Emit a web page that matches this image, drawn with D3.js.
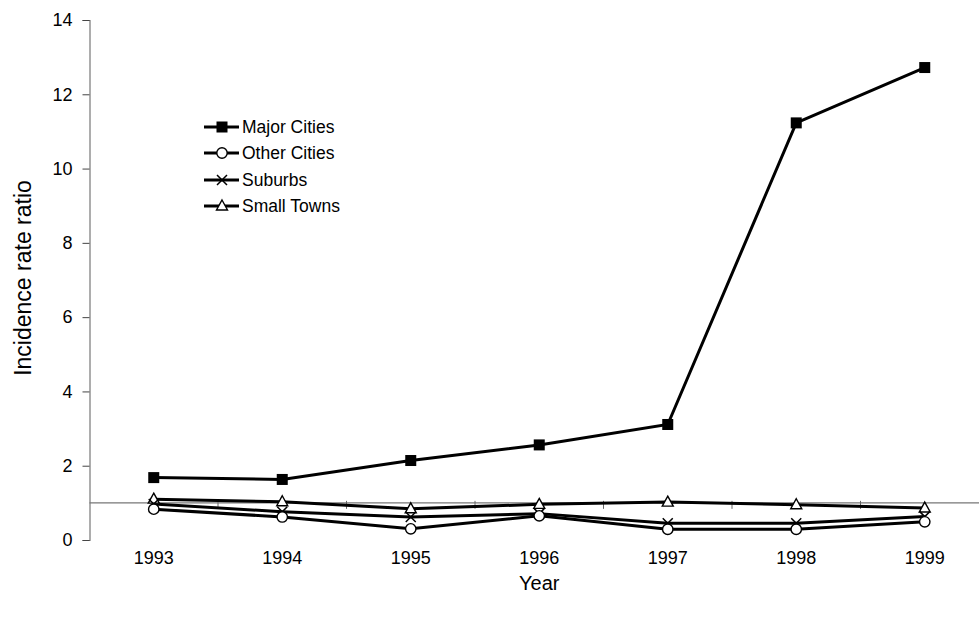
<!DOCTYPE html>
<html>
<head>
<meta charset="utf-8">
<script src="https://cdn.jsdelivr.net/npm/d3@7"></script>
<style>
  body { margin: 0; background: #fff; }
  svg { display: block; }
  .axis-text { font-family: "Liberation Sans Narrow", "Arial Narrow", "Liberation Sans", Arial, sans-serif; font-size: 18px; fill: #000; }
  .title-text { font-family: "Liberation Sans", Arial, sans-serif; font-size: 20px; fill: #000; }
  .legend-text { font-family: "Liberation Sans", Arial, sans-serif; font-size: 17.5px; fill: #000; }
</style>
</head>
<body>
<div id="chart"></div>
<script>
// --- Data ---
const years = ["1993", "1994", "1995", "1996", "1997", "1998", "1999"];
const majorCities = [1.68, 1.63, 2.14, 2.56, 3.11, 11.23, 12.72];
const otherCities = [0.83, 0.62, 0.30, 0.65, 0.29, 0.29, 0.49];
const suburbs = [0.97, 0.76, 0.62, 0.71, 0.45, 0.45, 0.63];
const smallTowns = [1.10, 1.03, 0.84, 0.96, 1.02, 0.95, 0.86];
const yTicks = [0, 2, 4, 6, 8, 10, 12, 14];

const seriesList = [
  { name: "Major Cities", values: majorCities, marker: "square" },
  { name: "Other Cities", values: otherCities, marker: "circle" },
  { name: "Suburbs", values: suburbs, marker: "cross" },
  { name: "Small Towns", values: smallTowns, marker: "triangle" }
];

// --- Layout ---
const width = 979, height = 622;
const plotLeft = 89.5, plotTop = 20, plotBottom = 540;
const bandStep = 128.5;

const svg = d3.select("#chart").append("svg")
  .attr("width", width)
  .attr("height", height);

const x = d3.scaleBand()
  .domain(years)
  .range([plotLeft, plotLeft + bandStep * years.length])
  .paddingInner(0).paddingOuter(0);

const y = d3.scaleLinear().domain([0, 14]).range([plotBottom, plotTop]);
const cx = d => x(d) + x.bandwidth() / 2;

// Y axis
const yAxis = svg.append("g")
  .attr("transform", `translate(${plotLeft},0)`)
  .call(d3.axisLeft(y).tickValues(yTicks).tickSize(7).tickPadding(10));
yAxis.select(".domain").attr("stroke", "#777").attr("stroke-width", 1.2);
yAxis.selectAll(".tick line").attr("stroke", "#444");
yAxis.selectAll("text").attr("class", "axis-text").attr("font-size", null).attr("font-family", null);

// Horizontal category axis crossing at 1
const xAxisY = y(1);
const xAxis = svg.append("g")
  .attr("transform", `translate(0,${xAxisY})`);
xAxis.append("line")
  .attr("x1", plotLeft).attr("x2", x.range()[1])
  .attr("stroke", "#777").attr("stroke-width", 1.2);
xAxis.selectAll(".xtick")
  .data(years.slice(1))
  .join("line")
  .attr("x1", d => x(d)).attr("x2", d => x(d))
  .attr("y1", -2).attr("y2", 6)
  .attr("stroke", "#666").attr("stroke-width", 1);

// Category labels below the plot
svg.append("g").selectAll("text")
  .data(years)
  .join("text")
  .attr("class", "axis-text")
  .attr("x", d => cx(d))
  .attr("y", 564)
  .attr("text-anchor", "middle")
  .text(d => d);

// Axis titles
svg.append("text")
  .attr("class", "title-text")
  .attr("x", cx("1996"))
  .attr("y", 590)
  .attr("text-anchor", "middle")
  .text("Year");

svg.append("text")
  .attr("class", "title-text")
  .style("font-size", "23px")
  .attr("transform", "translate(31,278) rotate(-90)")
  .attr("text-anchor", "middle")
  .text("Incidence rate ratio");

// --- Markers ---
function drawMarker(g, type, px, py) {
  if (type === "square") {
    g.append("rect").attr("x", px - 5.5).attr("y", py - 5.5).attr("width", 11).attr("height", 11)
      .attr("fill", "#000");
  } else if (type === "circle") {
    g.append("circle").attr("cx", px).attr("cy", py).attr("r", 5.2)
      .attr("fill", "#fff").attr("stroke", "#000").attr("stroke-width", 1.4);
  } else if (type === "cross") {
    g.append("path")
      .attr("d", `M${px - 5},${py - 5}L${px + 5},${py + 5}M${px + 5},${py - 5}L${px - 5},${py + 5}`)
      .attr("stroke", "#000").attr("stroke-width", 1.5).attr("fill", "none");
  } else if (type === "triangle") {
    g.append("path")
      .attr("d", `M${px},${py - 6}L${px + 5.5},${py + 4}L${px - 5.5},${py + 4}Z`)
      .attr("fill", "#fff").attr("stroke", "#000").attr("stroke-width", 1.4);
  }
}

const line = d3.line().x((d, i) => cx(years[i])).y(d => y(d));

// Lines first, then markers on top
const plotG = svg.append("g");
seriesList.slice().reverse().forEach(s => {
  plotG.append("path")
    .datum(s.values)
    .attr("d", line)
    .attr("fill", "none")
    .attr("stroke", "#000")
    .attr("stroke-width", 3);
});
seriesList.slice().reverse().forEach(s => {
  const mg = plotG.append("g");
  s.values.forEach((v, i) => drawMarker(mg, s.marker, cx(years[i]), y(v)));
});

// --- Legend ---
const legend = svg.append("g");
const legendRows = [127, 153, 180, 206];
seriesList.forEach((s, i) => {
  const ly = legendRows[i];
  legend.append("line")
    .attr("x1", 204).attr("x2", 239).attr("y1", ly).attr("y2", ly)
    .attr("stroke", "#000").attr("stroke-width", 3);
  drawMarker(legend, s.marker, 222, ly);
  legend.append("text")
    .attr("class", "legend-text")
    .attr("x", 242).attr("y", ly + 6)
    .text(s.name);
});
</script>
</body>
</html>
